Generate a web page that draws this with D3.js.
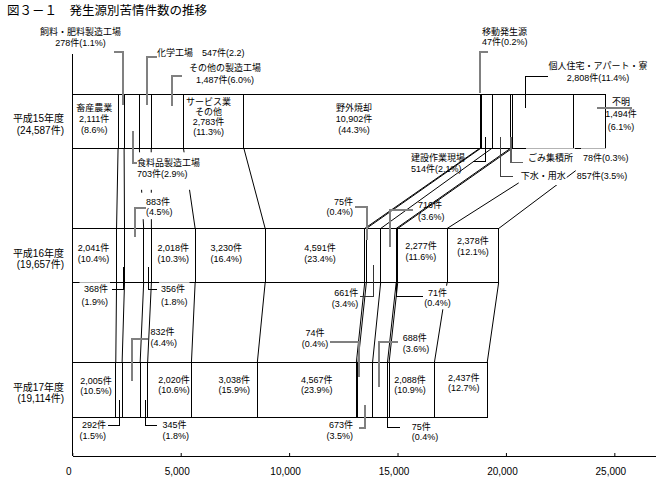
<!DOCTYPE html>
<html>
<head>
<meta charset="utf-8">
<script src="https://cdn.jsdelivr.net/npm/d3@7"></script>
<style>
body{margin:0;background:#fff;}
svg{display:block;font-family:"Liberation Sans","Noto Sans CJK JP",sans-serif;}
</style>
</head>
<body>
<svg id="chart" width="656" height="487"></svg>
<script>
// data
var years = ["平成15年度", "平成16年度", "平成17年度"];
var totals = [24587, 19657, 19114];
var categories = ["畜産農業", "飼料・肥料製造工場", "食料品製造工場", "化学工場", "その他の製造工場",
  "サービス業その他", "野外焼却", "移動発生源", "建設作業現場", "下水・用水", "ごみ集積所",
  "個人住宅・アパート・寮", "不明"];
var h15 = [2111, 278, 703, 547, 1487, 2783, 10902, 47, 514, 857, 78, 2808, 1494];
var h16 = [2041, 368, 883, 356, 2018, 3230, 4591, 75, 661, 716, 71, 2277, 2378];
var h17 = [2005, 292, 832, 345, 2020, 3038, 4567, 74, 673, 688, 75, 2088, 2437];
var pct15 = ["8.6", "1.1", "2.9", "2.2", "6.0", "11.3", "44.3", "0.2", "2.1", "3.5", "0.3", "11.4", "6.1"];
var pct16 = ["10.4", "1.9", "4.5", "1.8", "10.3", "16.4", "23.4", "0.4", "3.4", "3.6", "0.4", "11.6", "12.1"];
var pct17 = ["10.5", "1.5", "4.4", "1.8", "10.6", "15.9", "23.9", "0.4", "3.5", "3.6", "0.4", "10.9", "12.7"];
var xTicks = [0, 5000, 10000, 15000, 20000, 25000];
var title = "図３－１　発生源別苦情件数の推移";

var series = [h15, h16, h17];
var pcts = [pct15, pct16, pct17];
var fmt = d3.format(",");

var svg = d3.select("#chart");

var x = d3.scaleLinear().domain([0, 27000]).range([72.3, 657.7]);
var y = d3.scaleBand().domain(years).range([94, 417]).paddingInner(0.5985).paddingOuter(0);
var bw = y.bandwidth();

var rows = years.map(function (yr, i) {
  var r = {year: yr};
  categories.forEach(function (c, k) { r[c] = series[i][k]; });
  return r;
});
var stack = d3.stack().keys(categories)(rows);

function x0(yi, k) { return x(stack[k][yi][0]); }
function x1(yi, k) { return x(stack[k][yi][1]); }
function mid(yi, k) { return (x0(yi, k) + x1(yi, k)) / 2; }
function barMid(yi) { return y(years[yi]) + bw / 2; }
function nv(yi, k) { return fmt(series[yi][k]) + "件"; }
function pv(yi, k) { return "(" + pcts[yi][k] + "%)"; }

// title
svg.append("text").attr("x", 7).attr("y", 11).attr("dominant-baseline", "central")
  .attr("font-size", "12.5px").text(title);

// x axis
var xAxis = svg.append("g").attr("transform", "translate(0,456)")
  .call(d3.axisBottom(x).tickValues(xTicks).tickSizeInner(-3).tickSizeOuter(0).tickFormat(fmt));
xAxis.select(".domain").attr("stroke", "#000").attr("stroke-width", 1.2).attr("shape-rendering", "crispEdges");
xAxis.selectAll(".tick line").attr("stroke", "#000");
xAxis.selectAll(".tick text").attr("y", 15).attr("dy", "0").attr("dx", -4)
  .attr("dominant-baseline", "central").attr("font-size", "10px").attr("fill", "#000")
  .attr("font-family", "\"Liberation Sans\",sans-serif");

// left axis line
svg.append("line").attr("x1", x(0)).attr("x2", x(0)).attr("y1", 54).attr("y2", 456)
  .attr("stroke", "#000").attr("stroke-width", 1.2).attr("shape-rendering", "crispEdges");

// connecting lines between bars
var conn = svg.append("g").attr("stroke", "#000").attr("stroke-width", 1).attr("fill", "none");
for (var yi = 0; yi < 2; yi++) {
  categories.forEach(function (c, k) {
    conn.append("line")
      .attr("x1", x1(yi, k)).attr("y1", y(years[yi]) + bw)
      .attr("x2", x1(yi + 1, k)).attr("y2", y(years[yi + 1]));
  });
}

// bars
var bars = svg.append("g");
stack.forEach(function (s, k) {
  s.forEach(function (d, yi) {
    bars.append("rect")
      .attr("x", x(d[0])).attr("y", y(years[yi]))
      .attr("width", x(d[1]) - x(d[0])).attr("height", bw)
      .attr("fill", "#fff").attr("stroke", "#000").attr("stroke-width", 1)
      .attr("shape-rendering", "crispEdges");
  });
});

// year labels
years.forEach(function (yr, i) {
  var g = svg.append("g").attr("font-size", "10px").attr("text-anchor", "end");
  g.append("text").attr("x", 64).attr("y", barMid(i) - 2.5).attr("dominant-baseline", "central").text(yr);
  g.append("text").attr("x", 64).attr("y", barMid(i) + 9).attr("dominant-baseline", "central")
    .text("(" + fmt(totals[i]) + "件)");
});

function drawText(lines, tx, ty, step, anchor, bg, pad) {
  var g = svg.append("g").attr("font-size", "9px").attr("text-anchor", anchor);
  var t = g.append("g");
  lines.forEach(function (l, j) {
    t.append("text").attr("x", tx).attr("y", ty + j * step)
      .attr("dominant-baseline", "central").text(l);
  });
  if (bg) {
    var b = t.node().getBBox();
    pad = pad || [1, 2, 1, 2];
    g.insert("rect", ":first-child")
      .attr("x", b.x - pad[3]).attr("y", b.y - pad[0])
      .attr("width", b.width + pad[1] + pad[3]).attr("height", b.height + pad[0] + pad[2])
      .attr("fill", "#fff");
  }
}

// labels inside the bars
var inLabels = [
  {yr: 0, k: 0, lines: ["畜産農業"], dx: -1, dy: -2.5, step: 11},
  {yr: 0, k: 5, lines: ["サービス業", "その他"], dx: -5, dy: -4, step: 10},
  {yr: 0, k: 6, lines: ["野外焼却"], dx: -8, dy: -2, step: 10.8},
  {yr: 1, k: 0, dx: -1, dy: -2},
  {yr: 1, k: 4, dx: 0, dy: -2},
  {yr: 1, k: 5, dx: -4, dy: -2},
  {yr: 1, k: 6, dx: 5, dy: -2},
  {yr: 1, k: 11, dx: -1.5, dy: -4},
  {yr: 1, k: 12, dx: 0, dy: -9},
  {yr: 2, k: 0, dx: 2, dy: -4},
  {yr: 2, k: 4, dx: 4.5, dy: -5},
  {yr: 2, k: 5, dx: 10, dy: -5},
  {yr: 2, k: 6, dx: 10, dy: -5},
  {yr: 2, k: 11, dx: -1.7, dy: -5},
  {yr: 2, k: 12, dx: 3, dy: -7}
];
inLabels.forEach(function (L) {
  var lines = (L.lines || []).concat([nv(L.yr, L.k), pv(L.yr, L.k)]);
  var step = L.step || 10.6;
  var cy = barMid(L.yr) + L.dy - (lines.length - 1) * step / 2;
  drawText(lines, mid(L.yr, L.k) + L.dx, cy, step, "middle", false);
});

// labels outside the bars, with leader lines
var GR = "#808080";
function nameLine(yi, k) { return [categories[k], nv(yi, k) + pv(yi, k)]; }
function numLines(yi, k) { return [nv(yi, k), pv(yi, k)]; }
var outLabels = [
  {yr: 0, k: 1, lines: nameLine(0, 1), x: 80.5, y: 32, step: 10.5, a: "middle", ld: [2.2, 105, 52.3, 114.3, GR]},
  {yr: 0, k: 2, lines: nameLine(0, 2), x: 137, y: 163.3, step: 10.5, a: "start", bg: true, pad: [5, 2, 11, 1], ld: [1.6, 131, 163, 137, GR]},
  {yr: 0, k: 3, lines: [categories[3] + "　" + nv(0, 3) + "(" + pct15[3] + ")"], x: 157, y: 53.3, a: "start", ld: [1.4, 105, 57.3, 157, GR]},
  {yr: 0, k: 4, lines: nameLine(0, 4), x: 225, y: 68.3, step: 11.7, a: "middle", ld: [5, 106, 75.7, 181.7, GR]},
  {yr: 0, k: 7, lines: nameLine(0, 7), x: 482, y: 31.7, step: 10.5, a: "start", ld: [-1, 93, 52.3, 488.3, GR]},
  {yr: 0, k: 11, lines: nameLine(0, 11), x: 598, y: 66, step: 12, a: "middle", ld: [-18, 108, 76, 548, "#000", 1]},
  {yr: 0, k: 12, lines: [categories[12], nv(0, 12), pv(0, 12)], x: 621, y: 102, step: 12.3, a: "middle", ld: [7, 108.3, 108.3, 631.7, GR]},
  {yr: 0, k: 8, lines: nameLine(0, 8), x: 411, y: 157.7, step: 11.6, a: "start", ld: [-1, 137, 161.7, 473.3, "#000", 1]},
  {yr: 0, k: 9, lines: [categories[9]], x: 520.7, y: 176, a: "start", bg: true, pad: [4, 1, 4, 2], ld: [-0.9, 137, 176, 513.3, "#404040", 1]},
  {yr: 0, k: 9, lines: [nv(0, 9) + pv(0, 9)], x: 576.7, y: 176, a: "start", bg: true, pad: [4, 2, 4, 1]},
  {yr: 0, k: 10, lines: [categories[10]], x: 528, y: 158.3, a: "start", bg: true, pad: [4, 2, 5, 2], ld: [-0.7, 137, 162.7, 523.3, "#606060", 1.5]},
  {yr: 0, k: 10, lines: [nv(0, 10) + pv(0, 10)], x: 583, y: 158.3, a: "start", bg: true, pad: [4, 2, 5, 2]},
  {yr: 1, k: 1, lines: numLines(1, 1), x: 108, y: 289.3, step: 12.4, a: "end", bg: true, ld: [2.8, 266.7, 289, 111.7, "#000", 1]},
  {yr: 1, k: 2, lines: numLines(1, 2), x: 146, y: 201.7, step: 10.5, a: "start", bg: true, pad: [3, 2, 2, 5], ld: [0.9, 236.7, 207.7, 145.7, GR]},
  {yr: 1, k: 3, lines: numLines(1, 3), x: 161, y: 289.3, step: 12.4, a: "start", bg: true, ld: [0.8, 266.7, 289.3, 156.7, "#000", 1]},
  {yr: 1, k: 7, lines: numLines(1, 7), x: 353, y: 201.7, step: 10.5, a: "end", ld: [1.2, 240, 206.7, 355, GR]},
  {yr: 1, k: 8, lines: numLines(1, 8), x: 358.3, y: 293.3, step: 10.5, a: "end", ld: [0, 265, 296.7, 360, "#333", 1]},
  {yr: 1, k: 9, lines: numLines(1, 9), x: 418, y: 205, step: 12, a: "start", ld: [1.6, 246.7, 210, 413.3, GR]},
  {yr: 1, k: 10, lines: numLines(1, 10), x: 437.5, y: 292.7, step: 10.6, a: "middle", bg: true, ld: [0, 275, 296.7, 423.3, "#000", 1]},
  {yr: 2, k: 1, lines: numLines(2, 1), x: 106, y: 425, step: 10.5, a: "end", ld: [0.4, 400, 425, 108.3, "#000", 1]},
  {yr: 2, k: 2, lines: numLines(2, 2), x: 150.5, y: 332.3, step: 10.5, a: "start", ld: [1.2, 380.7, 339.3, 148.3, GR]},
  {yr: 2, k: 3, lines: numLines(2, 3), x: 162.5, y: 425, step: 10.5, a: "start", ld: [1.8, 400, 425, 156.7, "#000", 1]},
  {yr: 2, k: 7, lines: numLines(2, 7), x: 315, y: 333.3, step: 10.5, a: "middle", ld: [1.6, 376.7, 341.7, 330, GR]},
  {yr: 2, k: 8, lines: numLines(2, 8), x: 353, y: 425, step: 11, a: "end", ld: [0, 405, 428.3, 359.3, GR]},
  {yr: 2, k: 9, lines: numLines(2, 9), x: 402.7, y: 338.3, step: 10.5, a: "start", ld: [-0.7, 387.3, 341.7, 398.3, GR]},
  {yr: 2, k: 10, lines: numLines(2, 10), x: 411.7, y: 426.7, step: 10.5, a: "start", ld: [-0.9, 410, 427.3, 400, "#000", 1]}
];
outLabels.forEach(function (L) {
  drawText(L.lines, L.x, L.y, L.step || 10.5, L.a, L.bg, L.pad);
});
var leaders = svg.append("g").attr("fill", "none");
outLabels.forEach(function (L) {
  if (!L.ld) return;
  var lx = mid(L.yr, L.k) + L.ld[0];
  leaders.append("path")
    .attr("d", "M" + lx + "," + L.ld[1] + "V" + L.ld[2] + "H" + L.ld[3])
    .attr("stroke", L.ld[4]).attr("stroke-width", L.ld[5] || 2)
    .attr("shape-rendering", "crispEdges");
});
</script>
</body>
</html>
